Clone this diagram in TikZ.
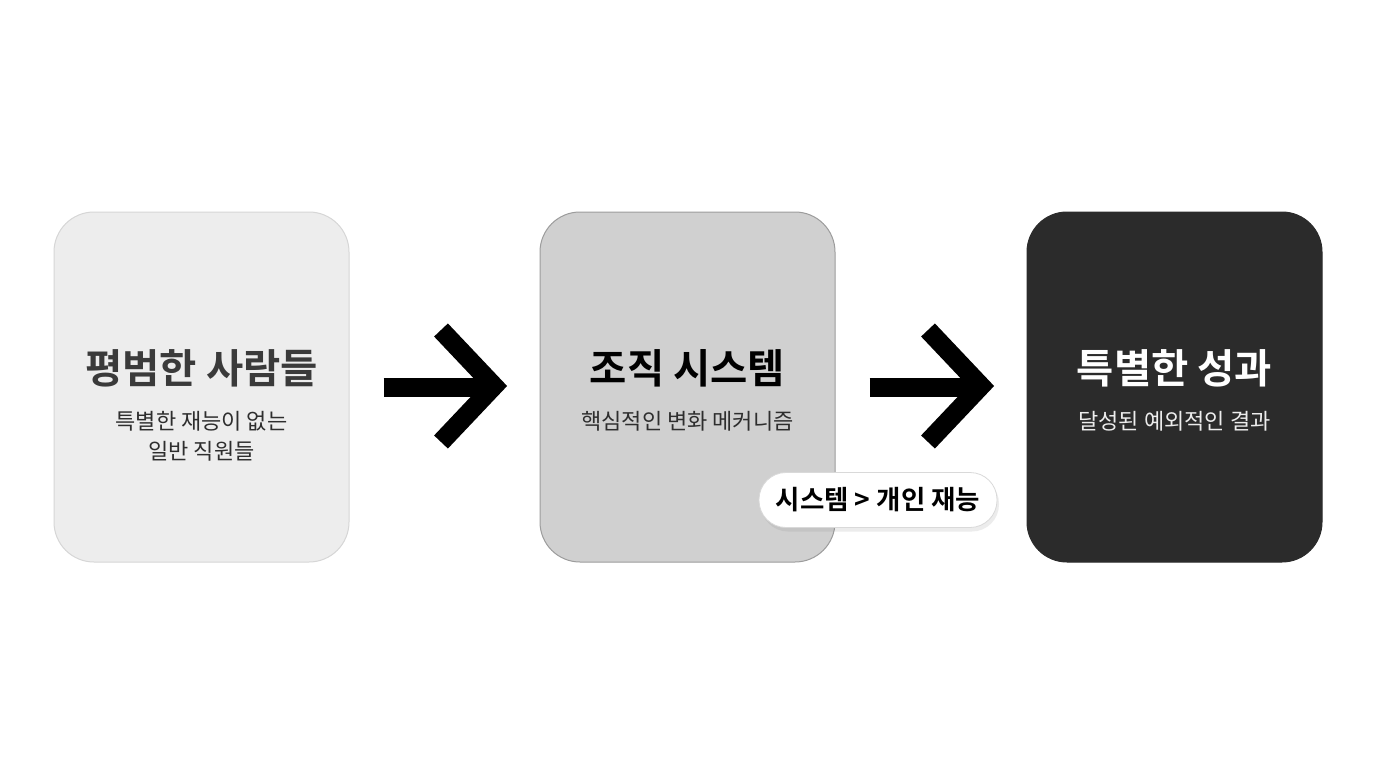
\documentclass[tikz,border=0pt]{standalone}
\usepackage{fontspec}
\newfontfamily\kr{Noto Sans CJK KR}
\newfontfamily\krb{Noto Sans CJK KR Bold}
\usetikzlibrary{shadows}
\definecolor{fillA}{HTML}{EDEDED}
\definecolor{lineA}{HTML}{D6D6D6}
\definecolor{fillB}{HTML}{D0D0D0}
\definecolor{lineB}{HTML}{9C9C9C}
\definecolor{fillC}{HTML}{2B2B2B}
\definecolor{txtA}{HTML}{3A3A3A}
\definecolor{txtS}{HTML}{2E2E2E}
\tikzset{
  card/.style={rounded corners=40pt, minimum width=295pt, minimum height=350pt, inner sep=0pt, line width=1pt},
  ttl/.style={font=\krb\fontsize{40.5}{44}\selectfont, inner sep=0pt, anchor=center},
  sub/.style={font=\kr\fontsize{22}{30}\selectfont, inner sep=0pt, anchor=base},
  bar/.style={line width=19pt, line cap=butt},
  chev/.style={line width=19pt, line cap=butt, line join=miter},
  badge/.style={rounded corners=27pt, minimum width=238pt, minimum height=55pt, fill=white, draw=black!15, line width=0.8pt,
     font=\krb\fontsize{26.5}{28}\selectfont, inner sep=0pt,
     drop shadow={opacity=0.15, shadow xshift=2pt, shadow yshift=-4pt}}
}
\begin{document}
\begin{tikzpicture}[x=1pt,y=-1pt]
\useasboundingbox[fill=white] (0,0) rectangle (1376,768);
% cards
\node[card, fill=fillA, draw=lineA] (b1) at (201.5,387) {};
\node[card, fill=fillB, draw=lineB] (b2) at (687.5,387) {};
\node[card, fill=fillC, draw=fillC] (b3) at (1174.5,387) {};
% texts
\node[ttl, text=txtA] (t1) at (201.5,368) {평범한 사람들};
\node[sub, text=txtS] (s1a) at (201.5,429) {특별한 재능이 없는};
\node[sub, text=txtS] (s1b) at (201.5,459) {일반 직원들};
\node[ttl, text=black] (t2) at (687.5,368) {조직 시스템};
\node[sub, text=txtS] (s2) at (687.5,429) {핵심적인 변화 메커니즘};
\node[ttl, text=white] (t3) at (1174.5,368) {특별한 성과};
\node[sub, text=white!93!black] (s3) at (1174.5,429) {달성된 예외적인 결과};
% arrows
\draw[bar, shorten <=34pt, shorten >=44pt] (b1.east) -- (b2.west);
\draw[chev] (441,330) -- (494,386) -- (441,442);
\draw[bar, shorten <=34pt, shorten >=44pt] (b2.east) -- (b3.west);
\draw[chev] (928,330) -- (981,386) -- (928,442);
% badge
\node[badge] (bd) at (878,500) {시스템 > 개인 재능};
\end{tikzpicture}
\end{document}
